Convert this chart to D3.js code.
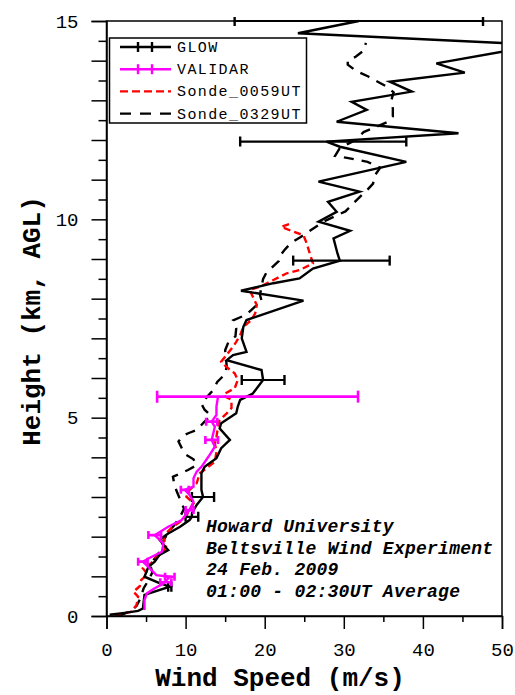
<!DOCTYPE html>
<html><head><meta charset="utf-8">
<script src="https://cdn.jsdelivr.net/npm/d3@7"></script>
<style>
html,body{margin:0;padding:0;background:#fff;}
svg{display:block;}
</style></head>
<body>
<script>
// ---- data ----
const glowHeight = [0.03,0.08,0.13,0.19,0.53,0.74,0.83,0.99,1.24,1.37,1.54,1.66,1.75,1.92,2.08,2.25,2.42,2.5,2.59,2.80,3.0,3.18,3.6,3.76,3.98,4.23,4.44,4.73,4.86,5.11,5.28,5.45,5.61,5.95,6.2,6.45,6.58,6.66,7.0,7.29,7.46,7.95,8.2,8.39,8.51,8.76,8.96,9.14,9.52,9.71,9.94,10.19,10.44,10.70,10.95,11.45,11.83,11.96,12.17,12.46,12.76,12.96,13.22,13.47,13.70,13.93,14.4,14.69,15.0];
const glowSpeed  = [0.4,2.3,4.0,4.6,4.8,8.0,6.7,4.8,5.3,6.1,6.7,7.8,7.4,6.7,7.8,9.3,10.5,10.8,10.8,11.4,12.2,12.0,12.0,12.4,13.9,14.5,15.6,14.3,14.5,16.4,16.6,16.9,18.5,19.8,19.6,15.2,16.0,17.7,17.1,17.3,17.7,24.9,17.0,21.1,24.4,26.1,29.5,29.2,28.7,30.8,26.8,29.1,28.0,32.0,26.8,37.9,29.5,27.8,44.5,29.1,32.9,31.0,38.6,35.8,45.3,41.7,55,24.2,31.9];
const glowErrHeight = [0.74,2.5,3.0,5.95,8.96,11.96,15.0];
const glowErrSpeed  = [8.0,10.8,12.2,19.8,29.7,27.4,31.9];
const glowErr       = [0.2,0.8,1.4,2.7,6.1,10.5,15.7];

const validarHeight = [0.15,0.40,0.57,0.70,0.82,0.99,1.03,1.24,1.37,1.45,1.62,1.83,2.04,2.25,2.42,2.67,2.88,3.05,3.18,3.26,3.47,3.64,3.76,4.02,4.27,4.44,4.77,4.90,5.07,5.28,5.53];
const validarSpeed  = [4.8,4.8,5.1,6.1,7.2,8.0,6.3,5.3,4.6,5.3,7.0,7.2,6.1,7.8,9.5,10.5,11.0,10.5,9.9,11.0,11.0,11.4,12.0,12.9,13.7,13.3,13.7,13.3,13.9,13.9,14.1];
const validarErrHeight = [0.85,0.99,1.37,2.04,2.67,3.18,4.44,4.90,5.53];
const validarErrLo     = [6.8,7.4,4.0,5.3,10.0,9.4,12.5,12.6,6.4];
const validarErrHi     = [8.2,8.6,5.2,6.9,11.0,10.4,14.1,14.0,31.8];

const sonde0059Height = [0.01,0.11,0.28,0.49,0.61,0.75,0.91,1.05,1.20,1.32,1.45,1.62,1.79,1.95,2.1,2.25,2.46,2.67,2.84,3.01,3.18,3.35,3.60,3.72,3.89,4.14,4.35,4.52,4.77,4.94,5.11,5.24,5.45,5.55,5.61,5.74,5.95,6.12,6.24,6.41,6.79,6.91,7.08,7.29,7.46,7.63,7.84,8.05,8.22,8.30,8.47,8.64,8.72,8.89,9.14,9.40,9.60,9.69,9.81,9.90];
const sonde0059Speed  = [1.0,3.2,3.8,4.0,3.4,4.2,4.4,5.2,4.6,5.6,6.1,7.2,7.6,7.2,7.6,8.4,9.9,10.5,11.0,10.1,10.5,11.4,11.8,12.6,13.7,13.9,13.7,13.9,14.1,14.3,15.2,15.8,15.8,14.8,15.0,16.2,16.6,16.2,15.4,14.5,16.0,16.4,16.9,17.3,18.3,18.8,19.0,18.5,18.1,19.4,21.1,22.8,24.4,26.1,25.7,25.3,24.9,23.6,22.1,23.4];

const sonde0329Height = [0.0,0.1,0.25,0.45,0.7,0.9,1.1,1.3,1.5,1.7,1.9,2.1,2.3,2.5,2.7,2.9,3.13,3.3,3.51,3.68,3.8,3.95,4.06,4.2,4.4,4.55,4.62,4.69,4.9,5.05,5.2,5.35,5.5,5.7,5.9,6.1,6.3,6.5,6.7,6.9,7.05,7.25,7.45,7.6,7.75,7.95,8.1,8.3,8.5,8.65,8.8,8.95,9.1,9.25,9.4,9.55,9.75,9.95,10.2,10.4,10.6,10.75,10.9,11.1,11.3,11.45,11.55,11.6,11.8,12.0,12.2,12.3,12.45,12.6,12.8,13.0,13.2,13.35,13.5,13.6,13.75,13.9,14.0,14.1,14.25,14.45];
const sonde0329Speed  = [1.5,2.8,3.8,4.3,4.7,5.3,5.8,5.5,6.3,7.0,7.2,7.8,8.6,9.3,9.8,9.4,8.9,8.6,8.4,10.3,11.4,11.0,10.1,9.6,9.1,9.7,10.5,11.4,12.4,13.2,12.4,12.0,12.6,13.5,14.0,15.0,15.2,15.1,15.0,15.4,16.3,16.4,16.0,17.7,18.5,19.6,19.4,19.6,19.8,20.2,21.0,21.8,22.0,22.6,23.3,24.5,26.0,27.5,30.2,31.2,32.2,33.0,33.7,33.9,34.6,33.0,30.4,28.9,29.5,31.5,32.5,33.7,35.5,36.2,36.2,36.0,36.3,35.4,34.0,33.1,31.5,30.5,30.5,31.5,32.5,32.8];

const xTicks = [0,5,10,15,20,25,30,35,40,45,50];
const yTicks = [0,0.5,1,1.5,2,2.5,3,3.5,4,4.5,5,5.5,6,6.5,7,7.5,8,8.5,9,9.5,10,10.5,11,11.5,12,12.5,13,13.5,14,14.5,15];
const yLabels = [0,5,10,15];
const xLabels = [0,10,20,30,40,50];
const seriesNames = ["GLOW","VALIDAR","Sonde_0059UT","Sonde_0329UT"];
const annotation = ["Howard University","Beltsville Wind Experiment","24 Feb. 2009","01:00 - 02:30UT Average"];

// ---- drawing ----
const W = 515, H = 695;
const L = 106.5, R = 502, T = 21, B = 616;
const svg = d3.select("body").append("svg").attr("width", W).attr("height", H);
const x = d3.scaleLinear().domain([0,50]).range([L,R]);
const y = d3.scaleLinear().domain([0,15]).range([B,T]);
const mono = "'Liberation Mono', 'DejaVu Sans Mono', monospace";

svg.append("defs").append("clipPath").attr("id","clip")
  .append("rect").attr("x",L).attr("y",T-4).attr("width",R-L).attr("height",B-T+4);

const plot = svg.append("g").attr("clip-path","url(#clip)");

const line = d3.line().x(d=>x(d[1])).y(d=>y(d[0]));
const zip = (a,b)=>a.map((v,i)=>[v,b[i]]);

// sondes
plot.append("path").datum(zip(sonde0329Height,sonde0329Speed)).attr("d",line)
  .attr("fill","none").attr("stroke","#000").attr("stroke-width",2.4).attr("stroke-dasharray","10,8");
plot.append("path").datum(zip(sonde0059Height,sonde0059Speed)).attr("d",line)
  .attr("fill","none").attr("stroke","#ff0000").attr("stroke-width",2.4).attr("stroke-dasharray","7,4");

// GLOW
plot.append("path").datum(zip(glowHeight,glowSpeed)).attr("d",line)
  .attr("fill","none").attr("stroke","#000").attr("stroke-width",2.4).attr("stroke-linejoin","miter");
const ge = plot.append("g");
glowErrHeight.forEach((h,i)=>{
  const yy = y(h), x0 = x(glowErrSpeed[i]-glowErr[i]), x1 = x(glowErrSpeed[i]+glowErr[i]);
  ge.append("line").attr("x1",x0).attr("x2",x1).attr("y1",yy).attr("y2",yy).attr("stroke","#000").attr("stroke-width",2.2);
  [x0,x1].forEach(xx=>ge.append("line").attr("x1",xx).attr("x2",xx).attr("y1",yy-5).attr("y2",yy+5).attr("stroke","#000").attr("stroke-width",2.4));
});

// VALIDAR
plot.append("path").datum(zip(validarHeight,validarSpeed)).attr("d",line)
  .attr("fill","none").attr("stroke","#ff00ff").attr("stroke-width",2.4);
const ve = plot.append("g");
validarErrHeight.forEach((h,i)=>{
  const yy = y(h), x0 = x(validarErrLo[i]), x1 = x(validarErrHi[i]);
  const cap = (validarErrHi[i]-validarErrLo[i])>5 ? 6 : 4;
  ve.append("line").attr("x1",x0).attr("x2",x1).attr("y1",yy).attr("y2",yy).attr("stroke","#ff00ff").attr("stroke-width",2.6);
  [x0,x1].forEach(xx=>ve.append("line").attr("x1",xx).attr("x2",xx).attr("y1",yy-cap).attr("y2",yy+cap).attr("stroke","#ff00ff").attr("stroke-width",2.6));
});

// frame
svg.append("rect").attr("x",L).attr("y",T).attr("width",R-L).attr("height",B-T)
  .attr("fill","none").attr("stroke","#000").attr("stroke-width",1.5);

// axes
const yAxis = d3.axisLeft(y).tickValues(yTicks).tickSize(15).tickPadding(13)
  .tickFormat(d=>yLabels.includes(d)?d3.format("d")(d):"");
const ya = svg.append("g").attr("transform",`translate(${L},0)`).call(yAxis);
ya.select(".domain").attr("stroke","#000").attr("stroke-width",1.5);
ya.selectAll(".tick line").attr("stroke","#000").attr("stroke-width",1.5)
  .attr("x2",d=>Number.isInteger(d)?-15:-8);
ya.selectAll(".tick text").attr("font-family",mono).attr("font-size",19).attr("fill","#000");

const xAxis = d3.axisBottom(x).tickValues(xTicks).tickSize(13).tickPadding(14)
  .tickFormat(d=>xLabels.includes(d)?d3.format("d")(d):"");
const xa = svg.append("g").attr("transform",`translate(0,${B})`).call(xAxis);
xa.select(".domain").attr("stroke","#000").attr("stroke-width",1.5);
xa.selectAll(".tick line").attr("stroke","#000").attr("stroke-width",1.5)
  .attr("y2",d=>(d%10===0)?13:6);
xa.selectAll(".tick text").attr("font-family",mono).attr("font-size",19).attr("fill","#000");

// axis titles
svg.append("text").attr("x",280).attr("y",686).attr("text-anchor","middle")
  .attr("font-family",mono).attr("font-size",26).attr("font-weight","bold").text("Wind Speed (m/s)");
svg.append("text").attr("transform","translate(40,321) rotate(-90)").attr("text-anchor","middle")
  .attr("font-family",mono).attr("font-size",26).attr("font-weight","bold").text("Height (km, AGL)");

// legend
const lg = svg.append("g");
lg.append("rect").attr("x",109.5).attr("y",38).attr("width",197).attr("height",85)
  .attr("fill","#fff").attr("stroke","#000").attr("stroke-width",1.5);
const legendStyles = [
  {c:"#000",dash:null,caps:true},
  {c:"#ff00ff",dash:null,caps:true},
  {c:"#ff0000",dash:"8,4",caps:false},
  {c:"#000",dash:"11,9",caps:false}
];
seriesNames.forEach((n,i)=>{
  const yy = 47 + i*22.2;
  const s = legendStyles[i];
  const l = lg.append("line").attr("x1",120).attr("x2",171).attr("y1",yy).attr("y2",yy)
    .attr("stroke",s.c).attr("stroke-width",2.4);
  if (s.dash) l.attr("stroke-dasharray",s.dash);
  if (s.caps) [138,152].forEach(xx=>lg.append("line").attr("x1",xx).attr("x2",xx).attr("y1",yy-5).attr("y2",yy+5).attr("stroke",s.c).attr("stroke-width",2.4));
  lg.append("text").attr("x",177).attr("y",yy+5).attr("font-family",mono).attr("font-size",15)
    .attr("letter-spacing",1.4).attr("fill","#000").text(n);
});

// annotation
annotation.forEach((t,i)=>{
  svg.append("text").attr("x",206).attr("y",532+i*21.7).attr("font-family",mono)
    .attr("font-size",18).attr("letter-spacing",0.25).attr("font-style","italic").attr("font-weight","bold").attr("fill","#000").text(t);
});
</script>
</body></html>
